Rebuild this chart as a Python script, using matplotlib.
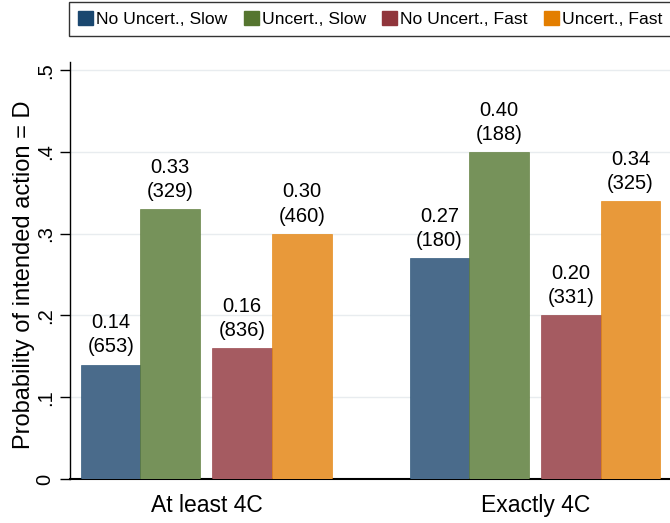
import numpy as np
import matplotlib
matplotlib.use('Agg')
import matplotlib.pyplot as plt
from matplotlib.patches import Patch

plt.rcParams['font.family'] = ['Liberation Sans', 'DejaVu Sans']

# data
groups = ['At least 4C', 'Exactly 4C']
series = ['No Uncert., Slow', 'Uncert., Slow', 'No Uncert., Fast', 'Uncert., Fast']
probs = {
    'No Uncert., Slow': [0.14, 0.27],
    'Uncert., Slow': [0.33, 0.40],
    'No Uncert., Fast': [0.16, 0.20],
    'Uncert., Fast': [0.30, 0.34],
}
counts = {
    'No Uncert., Slow': [653, 180],
    'Uncert., Slow': [329, 188],
    'No Uncert., Fast': [836, 331],
    'Uncert., Fast': [460, 325],
}
yticks = [0, 0.1, 0.2, 0.3, 0.4, 0.5]
ytick_labels = ['0', '.1', '.2', '.3', '.4', '.5']

# Stata s2color-ish
bar_colors = ['#4a6b8b', '#76925a', '#a55b61', '#e8993a']
edge_colors = ['#1a476f', '#55752f', '#90353b', '#e37e00']

fig = plt.figure(figsize=(6.7, 5.23), dpi=100)
ax = fig.add_axes([70 / 670, 1 - 479 / 523, 600 / 670, 417 / 523])

offsets = [-0.291, -0.110, 0.108, 0.290]
width = 0.182
x = np.arange(len(groups))

for i, s in enumerate(series):
    xs = x + offsets[i]
    ax.bar(xs, probs[s], width=width, color=bar_colors[i],
           edgecolor=edge_colors[i], linewidth=0.4, zorder=3)
    for xi, p, n in zip(xs, probs[s], counts[s]):
        ax.text(xi, p + 0.010, f'{p:.2f}\n({n})', ha='center', va='bottom',
                fontsize=14.5, linespacing=1.35, zorder=4, clip_on=False)

ax.set_xlim(-0.415, 1.41)
ax.set_ylim(0, 0.51)
ax.set_yticks(yticks)
ax.set_yticklabels(ytick_labels, rotation=90, va='center', fontsize=14.5)
ax.set_xticks(x)
ax.set_xticklabels(groups, fontsize=16.5)
ax.tick_params(axis='x', length=0, pad=11)
ax.tick_params(axis='y', length=7, width=1, direction='out', pad=4)
ax.set_ylabel('Probability of intended action = D', fontsize=17)
ax.yaxis.set_label_coords(-0.058, 0.49)

for sp in ['top', 'right']:
    ax.spines[sp].set_visible(False)
ax.spines['left'].set_linewidth(1)
ax.spines['bottom'].set_linewidth(1.5)
ax.yaxis.grid(True, color='#e8ecef', linewidth=1, zorder=0)
ax.set_axisbelow(True)

handles = [Patch(facecolor=c, edgecolor=c, label=s) for c, s in zip(edge_colors, series)]
leg = fig.legend(handles=handles, loc='upper left', ncol=4,
                 bbox_to_anchor=(69 / 670, 1 - 2 / 523), fontsize=12.6,
                 frameon=True, fancybox=False, edgecolor='black',
                 handlelength=0.86, handleheight=0.8, handletextpad=0.15,
                 columnspacing=0.95, borderpad=0.53, borderaxespad=0)
leg.get_frame().set_linewidth(1)

fig.savefig('out.png', dpi=100, facecolor='white')
